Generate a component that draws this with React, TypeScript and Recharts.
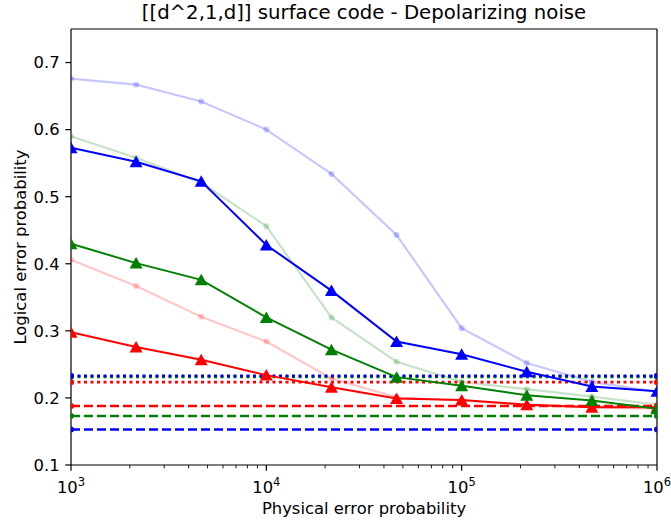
import React from "react";
import {
  LineChart,
  Line,
  XAxis,
  YAxis,
  ReferenceLine,
} from "recharts";

// physical error probability (x, log scale)
const physical = [1000, 2154, 4642, 10000, 21544, 46416, 100000, 215443, 464159, 1000000];

// faded curves (circles)
const fadedBlue = [0.676, 0.667, 0.642, 0.6, 0.534, 0.443, 0.304, 0.252, 0.224, 0.209];
const fadedGreen = [0.59, 0.558, 0.521, 0.456, 0.32, 0.254, 0.224, 0.213, 0.202, 0.19];
const fadedRed = [0.406, 0.367, 0.321, 0.284, 0.229, 0.201, 0.196, 0.19, 0.186, 0.184];

// solid curves (triangles)
const blueTri = [0.573, 0.552, 0.523, 0.428, 0.36, 0.284, 0.265, 0.239, 0.217, 0.21];
const greenTri = [0.43, 0.401, 0.376, 0.32, 0.272, 0.231, 0.218, 0.204, 0.196, 0.184];
const redTri = [0.298, 0.276, 0.257, 0.234, 0.216, 0.199, 0.197, 0.19, 0.186, 0.186];

// horizontal reference levels
const hlineRange = [1000, 1000000];
const blueDotted = 0.233;
const greenDotted = 0.2315;
const redDotted = 0.2235;
const redDashed = 0.188;
const greenDashed = 0.173;
const blueDashed = 0.153;

const yTicks = [0.1, 0.2, 0.3, 0.4, 0.5, 0.6, 0.7];
const xTicks = [
  1000, 2000, 3000, 4000, 5000, 6000, 7000, 8000, 9000,
  10000, 20000, 30000, 40000, 50000, 60000, 70000, 80000, 90000,
  100000, 200000, 300000, 400000, 500000, 600000, 700000, 800000, 900000,
  1000000,
];

const FONT = "'DejaVu Sans', sans-serif";

const series = (ys: number[]) => physical.map((x, i) => ({ x, y: ys[i] }));
const flat = (v: number) => hlineRange.map((x) => ({ x, y: v }));

function Triangle(props: any) {
  const { cx, cy, fill } = props;
  if (cx == null || cy == null) return null;
  return (
    <polygon
      points={`${cx},${cy - 6} ${cx - 6.5},${cy + 5.5} ${cx + 6.5},${cy + 5.5}`}
      fill={fill}
    />
  );
}

function XTick(props: any) {
  const { x, y, payload } = props;
  const v = payload.value;
  const exp = Math.round(Math.log10(v));
  const major = Math.abs(v - Math.pow(10, exp)) < 1e-6;
  return (
    <g>
      <line
        x1={x}
        x2={x}
        y1={y}
        y2={y + (major ? 5.7 : 3.3)}
        stroke="#000"
        strokeWidth={major ? 1.2 : 0.9}
      />
      {major && (
        <text x={x} y={y + 28} textAnchor="middle" fontSize={16.4} fill="#000" fontFamily={FONT}>
          10
          <tspan dy={-7} fontSize={11.5}>
            {exp}
          </tspan>
        </text>
      )}
    </g>
  );
}

function fadedLine(key: string, data: any[], color: string) {
  return (
    <Line
      key={key}
      data={data}
      dataKey="y"
      type="linear"
      stroke={color}
      strokeOpacity={0.22}
      strokeWidth={2.2}
      dot={{ r: 3, fill: color, fillOpacity: 0.22, stroke: "none" }}
      isAnimationActive={false}
    />
  );
}

function triLine(key: string, data: any[], color: string) {
  return (
    <Line
      key={key}
      data={data}
      dataKey="y"
      type="linear"
      stroke={color}
      strokeWidth={2}
      dot={<Triangle fill={color} />}
      isAnimationActive={false}
    />
  );
}

function hLine(key: string, v: number, color: string, dash: string, width: number) {
  return (
    <Line
      key={key}
      data={flat(v)}
      dataKey="y"
      type="linear"
      stroke={color}
      strokeWidth={width}
      strokeDasharray={dash}
      dot={{ r: 3, fill: color, stroke: "none" }}
      isAnimationActive={false}
    />
  );
}

export default function App() {
  return (
    <div style={{ position: "absolute", left: 0, top: 0, width: 671, height: 523, fontFamily: FONT, background: "#fff" }}>
      <div
        style={{
          position: "absolute",
          left: 71,
          width: 586,
          top: 2,
          textAlign: "center",
          fontSize: 19.7,
          lineHeight: "22px",
          color: "#000",
          whiteSpace: "nowrap",
        }}
      >
        [[d^2,1,d]] surface code - Depolarizing noise
      </div>
      <div
        style={{
          position: "absolute",
          left: 20,
          top: 247,
          transform: "translate(-50%, -50%) rotate(-90deg)",
          fontSize: 16.4,
          whiteSpace: "nowrap",
          color: "#000",
        }}
      >
        Logical error probability
      </div>
      <div
        style={{
          position: "absolute",
          left: 71,
          width: 586,
          top: 499,
          textAlign: "center",
          fontSize: 16.4,
          lineHeight: "20px",
          color: "#000",
        }}
      >
        Physical error probability
      </div>
      <LineChart width={671} height={523} margin={{ top: 29, right: 14, left: 0, bottom: 0 }}>
        <XAxis
          dataKey="x"
          type="number"
          scale="log"
          domain={[1000, 1000000]}
          ticks={xTicks}
          interval={0}
          allowDataOverflow
          height={58}
          tickSize={0}
          tickMargin={0}
          tickLine={false}
          tick={<XTick />}
          axisLine={{ stroke: "#000", strokeWidth: 1.2 }}
        />
        <YAxis
          type="number"
          domain={[0.1, 0.75]}
          ticks={yTicks}
          interval={0}
          allowDataOverflow
          width={71}
          tickSize={5.7}
          tickMargin={5.7}
          tickLine={{ stroke: "#000", strokeWidth: 1.2 }}
          axisLine={{ stroke: "#000", strokeWidth: 1.2 }}
          tick={{ fill: "#000", fontSize: 16.4, fontFamily: FONT }}
          tickFormatter={(v: number) => v.toFixed(1)}
        />
        <ReferenceLine x={1000000} stroke="#000" strokeWidth={1.2} />
        <ReferenceLine y={0.75} stroke="#000" strokeWidth={1.2} />

        {fadedLine("fb", series(fadedBlue), "#0000ff")}
        {fadedLine("fg", series(fadedGreen), "#008000")}
        {fadedLine("fr", series(fadedRed), "#ff0000")}

        {hLine("bd", blueDashed, "#0000ff", "9 4", 2.5)}
        {hLine("gd", greenDashed, "#008000", "9 4", 2.5)}
        {hLine("rd", redDashed, "#ff0000", "9 4", 2.5)}
        {hLine("rdot", redDotted, "#ff0000", "3 3.5", 2.8)}
        {hLine("gdot", greenDotted, "#008000", "3 3.5", 2.8)}
        {hLine("bdot", blueDotted, "#0000ff", "3 3.5", 2.8)}

        {triLine("r", series(redTri), "#ff0000")}
        {triLine("g", series(greenTri), "#008000")}
        {triLine("b", series(blueTri), "#0000ff")}
      </LineChart>
    </div>
  );
}
